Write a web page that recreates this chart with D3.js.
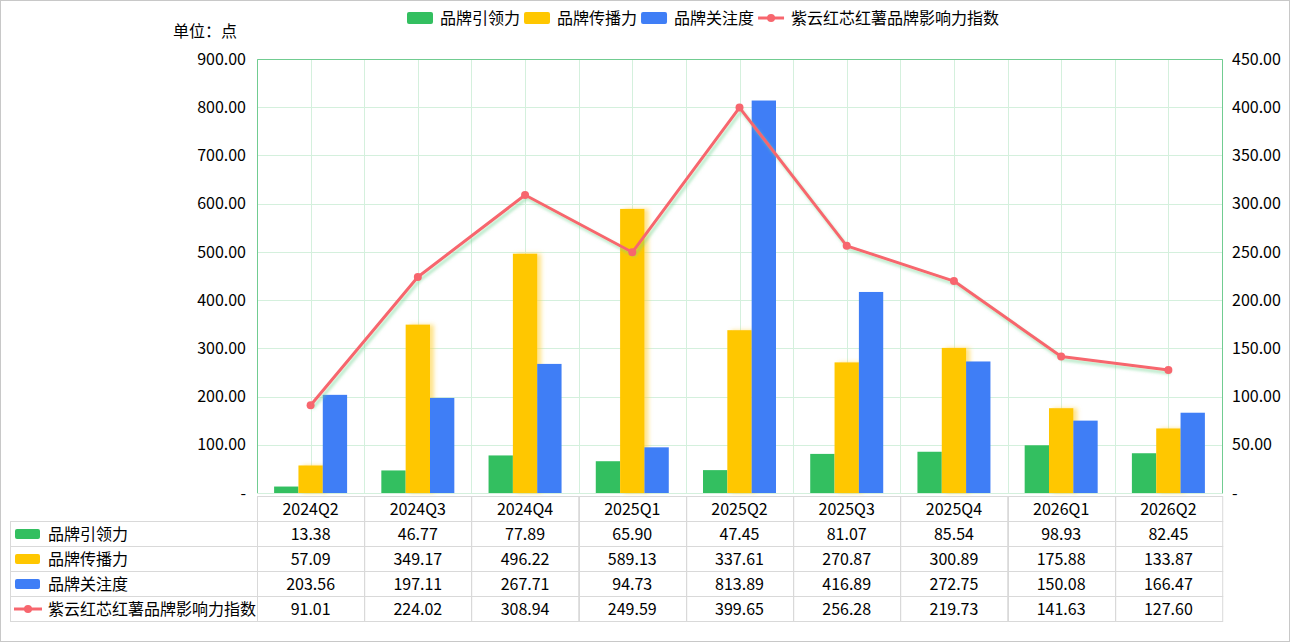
<!DOCTYPE html>
<html>
<head>
<meta charset="utf-8">
<script src="https://cdn.jsdelivr.net/npm/d3@7"></script>
<style>
  body { margin: 0; background: #fff; }
  svg text { font-family: "Microsoft YaHei", "Noto Sans CJK SC", sans-serif; fill: #000; }
</style>
</head>
<body>
<div id="chart"></div>
<script>
// data
const categories = ["2024Q2", "2024Q3", "2024Q4", "2025Q1", "2025Q2", "2025Q3", "2025Q4", "2026Q1", "2026Q2"];
const leadValues = [13.38, 46.77, 77.89, 65.90, 47.45, 81.07, 85.54, 98.93, 82.45];
const spreadValues = [57.09, 349.17, 496.22, 589.13, 337.61, 270.87, 300.89, 175.88, 133.87];
const attentionValues = [203.56, 197.11, 267.71, 94.73, 813.89, 416.89, 272.75, 150.08, 166.47];
const indexValues = [91.01, 224.02, 308.94, 249.59, 399.65, 256.28, 219.73, 141.63, 127.60];
const seriesNames = ["品牌引领力", "品牌传播力", "品牌关注度", "紫云红芯红薯品牌影响力指数"];
const leftTicks = [0, 100, 200, 300, 400, 500, 600, 700, 800, 900];
const rightTicks = [0, 50, 100, 150, 200, 250, 300, 350, 400, 450];
const unitLabel = "单位：点";

// layout
const W = 1292, H = 644;
const plot = { left: 257, right: 1222, top: 59, bottom: 493 };
const colors = ["#33bf60", "#ffc700", "#3f7ef6", "#f7666e"];
const gridColor = "#d4f0dd";
const frameColor = "#5fc584";
const FONT = 16;

const svg = d3.select("#chart").append("svg")
  .attr("width", W).attr("height", H);

const defs = svg.append("defs");
defs.append("filter").attr("id", "lineShadow")
  .attr("x", "-10%").attr("y", "-10%").attr("width", "120%").attr("height", "130%")
  .append("feDropShadow")
  .attr("dx", 2).attr("dy", 3).attr("stdDeviation", 1.6)
  .attr("flood-color", "#6fd491").attr("flood-opacity", 0.55);
defs.append("filter").attr("id", "barShadow")
  .attr("x", "-20%").attr("y", "-10%").attr("width", "160%").attr("height", "120%")
  .append("feDropShadow")
  .attr("dx", 4).attr("dy", 0).attr("stdDeviation", 2)
  .attr("flood-color", "#ffd23a").attr("flood-opacity", 0.6);

// outer border
svg.append("rect")
  .attr("x", 0.5).attr("y", 0.5).attr("width", 1289).attr("height", 641)
  .attr("fill", "none").attr("stroke", "#c8c8c8");

// scales
const x = d3.scaleBand().domain(categories).range([plot.left, plot.right]).padding(0);
const yLeft = d3.scaleLinear().domain([0, 900]).range([plot.bottom, plot.top]);
const yRight = d3.scaleLinear().domain([0, 450]).range([plot.bottom, plot.top]);
const groupW = 73;
const xInner = d3.scaleBand().domain([0, 1, 2]).range([0, groupW]).padding(0);

// grid
const grid = svg.append("g");
grid.selectAll("line.h").data(leftTicks).join("line")
  .attr("x1", plot.left).attr("x2", plot.right)
  .attr("y1", d => Math.round(yLeft(d)) + 0.5).attr("y2", d => Math.round(yLeft(d)) + 0.5)
  .attr("stroke", gridColor);
const vLines = [];
categories.forEach(c => { vLines.push(x(c)); vLines.push(x(c) + x.bandwidth() / 2); });
vLines.push(plot.right);
grid.selectAll("line.v").data(vLines).join("line")
  .attr("x1", d => Math.round(d) + 0.5).attr("x2", d => Math.round(d) + 0.5)
  .attr("y1", plot.top).attr("y2", plot.bottom)
  .attr("stroke", gridColor);

// frame
svg.append("path")
  .attr("d", `M${plot.left + 0.5},${plot.bottom}V${plot.top + 0.5}H${plot.right + 0.5}V${plot.bottom + 0.5}`)
  .attr("fill", "none").attr("stroke", frameColor).attr("stroke-opacity", 0.85);

// axes
const fmt = d => d === 0 ? "-" : d3.format(".2f")(d);
const axL = svg.append("g").attr("transform", `translate(${plot.left},0)`)
  .call(d3.axisLeft(yLeft).tickValues(leftTicks).tickFormat(fmt).tickSize(0).tickPadding(11));
const axR = svg.append("g").attr("transform", `translate(${plot.right},0)`)
  .call(d3.axisRight(yRight).tickValues(rightTicks).tickFormat(fmt).tickSize(0).tickPadding(10));
[axL, axR].forEach(a => {
  a.select(".domain").remove();
  a.selectAll("text").attr("font-size", FONT).attr("fill", "#000")
    .attr("font-family", "\"Microsoft YaHei\", \"Noto Sans CJK SC\", sans-serif");
});

svg.append("text").attr("x", 173).attr("y", 37).attr("font-size", FONT).text(unitLabel);

// bars
const barSeries = [leadValues, spreadValues, attentionValues];
barSeries.forEach((vals, si) => {
  svg.append("g")
    .attr("filter", si === 1 ? "url(#barShadow)" : null)
    .selectAll("rect").data(vals).join("rect")
    .attr("x", (d, i) => x(categories[i]) + (x.bandwidth() - groupW) / 2 + xInner(si))
    .attr("width", xInner.bandwidth())
    .attr("y", d => yLeft(d))
    .attr("height", d => plot.bottom - yLeft(d))
    .attr("fill", colors[si]);
});

// line
const cx = c => x(c) + x.bandwidth() / 2;
const line = d3.line().x((d, i) => cx(categories[i])).y(d => yRight(d));
svg.append("path").datum(indexValues)
  .attr("d", line).attr("fill", "none")
  .attr("stroke", colors[3]).attr("stroke-width", 3)
  .attr("stroke-linejoin", "round")
  .attr("filter", "url(#lineShadow)");
svg.append("g").selectAll("circle").data(indexValues).join("circle")
  .attr("cx", (d, i) => cx(categories[i])).attr("cy", d => yRight(d))
  .attr("r", 4).attr("fill", colors[3]);

// legend
const legend = svg.append("g");
let lx = 407;
seriesNames.forEach((name, i) => {
  const g = legend.append("g");
  if (i < 3) {
    g.append("rect").attr("x", lx).attr("y", 12).attr("width", 26).attr("height", 12)
      .attr("rx", 2).attr("fill", colors[i]);
  } else {
    g.append("line").attr("x1", lx).attr("x2", lx + 26).attr("y1", 18).attr("y2", 18)
      .attr("stroke", colors[3]).attr("stroke-width", 3);
    g.append("circle").attr("cx", lx + 13).attr("cy", 18).attr("r", 4).attr("fill", colors[3]);
  }
  const t = g.append("text").attr("x", lx + 33).attr("y", 24).attr("font-size", FONT).text(name);
  lx += 33 + t.node().getComputedTextLength() + 4;
});

// data table
const rowH = 25;
const tableTop = 496;
const tableLeft = 10.5;
const borderColor = "#d9d9d9";
const tbl = svg.append("g");

// header row
tbl.selectAll("rect.hc").data(categories).join("rect")
  .attr("x", c => Math.round(x(c)) + 0.5).attr("y", tableTop + 0.5)
  .attr("width", x.bandwidth()).attr("height", rowH)
  .attr("fill", "none").attr("stroke", borderColor);
tbl.selectAll("text.hc").data(categories).join("text")
  .attr("x", c => cx(c)).attr("y", tableTop + rowH / 2 + 6)
  .attr("text-anchor", "middle").attr("font-size", FONT).text(c => c);

const rows = [leadValues, spreadValues, attentionValues, indexValues];
rows.forEach((vals, ri) => {
  const y0 = tableTop + rowH * (ri + 1);
  tbl.append("rect")
    .attr("x", tableLeft).attr("y", y0 + 0.5)
    .attr("width", Math.round(plot.left) + 0.5 - tableLeft).attr("height", rowH)
    .attr("fill", "none").attr("stroke", borderColor);
  tbl.selectAll(null).data(vals).join("rect")
    .attr("x", (d, i) => Math.round(x(categories[i])) + 0.5).attr("y", y0 + 0.5)
    .attr("width", x.bandwidth()).attr("height", rowH)
    .attr("fill", "none").attr("stroke", borderColor);
  tbl.selectAll(null).data(vals).join("text")
    .attr("x", (d, i) => cx(categories[i])).attr("y", y0 + rowH / 2 + 6)
    .attr("text-anchor", "middle").attr("font-size", FONT)
    .text(d => d3.format(".2f")(d));
  // row key
  if (ri < 3) {
    tbl.append("rect").attr("x", 15).attr("y", y0 + 8).attr("width", 25).attr("height", 10)
      .attr("rx", 2).attr("fill", colors[ri]);
  } else {
    tbl.append("line").attr("x1", 14).attr("x2", 42).attr("y1", y0 + 13).attr("y2", y0 + 13)
      .attr("stroke", colors[3]).attr("stroke-width", 3);
    tbl.append("circle").attr("cx", 28).attr("cy", y0 + 13).attr("r", 4).attr("fill", colors[3]);
  }
  tbl.append("text").attr("x", 48).attr("y", y0 + rowH / 2 + 6)
    .attr("font-size", FONT).text(seriesNames[ri]);
});
</script>
</body>
</html>
